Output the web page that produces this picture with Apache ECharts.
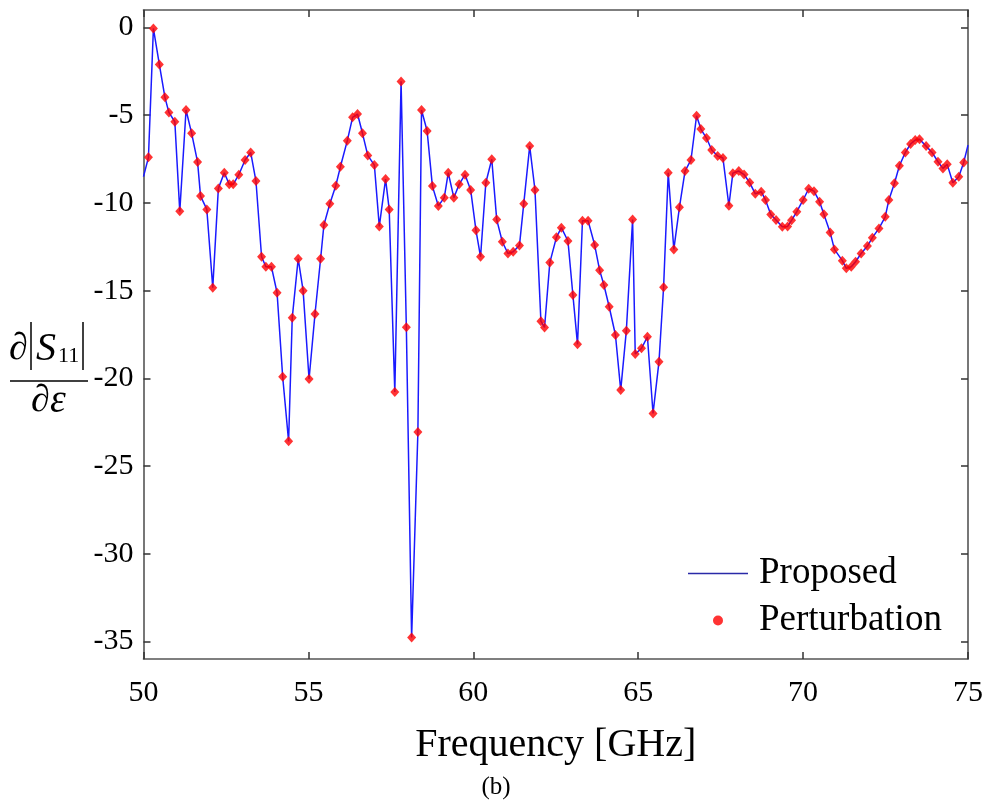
<!DOCTYPE html>
<html>
<head>
<meta charset="utf-8">
<script src="https://cdn.jsdelivr.net/npm/echarts@6/dist/echarts.min.js"></script>
<style>
html,body{margin:0;padding:0;background:#fff;}
#chart{width:988px;height:808px;}
</style>
</head>
<body>
<div id="chart"></div>
<script>
// Perturbation markers: frequency (GHz) and sensitivity values
const pertFreq = [50.15,50.30,50.48,50.65,50.77,50.95,51.10,51.29,51.46,51.64,51.73,51.92,52.10,52.27,52.45,52.60,52.72,52.89,53.08,53.25,53.41,53.58,53.71,53.88,54.05,54.22,54.40,54.51,54.69,54.84,55.02,55.20,55.37,55.47,55.65,55.83,55.97,56.18,56.34,56.49,56.64,56.80,57.00,57.15,57.34,57.45,57.62,57.81,57.97,58.13,58.32,58.43,58.60,58.76,58.94,59.12,59.24,59.41,59.57,59.75,59.92,60.08,60.22,60.38,60.56,60.71,60.88,61.05,61.21,61.40,61.53,61.71,61.87,62.05,62.16,62.32,62.52,62.67,62.87,63.02,63.16,63.31,63.48,63.68,63.83,63.96,64.12,64.31,64.47,64.64,64.83,64.91,65.10,65.28,65.45,65.63,65.77,65.91,66.08,66.25,66.42,66.60,66.77,66.90,67.07,67.23,67.41,67.57,67.75,67.87,68.05,68.21,68.38,68.55,68.73,68.86,69.02,69.18,69.37,69.53,69.65,69.81,70.00,70.17,70.33,70.50,70.63,70.82,70.95,71.19,71.31,71.46,71.59,71.76,71.95,72.10,72.30,72.49,72.60,72.77,72.92,73.10,73.26,73.40,73.53,73.73,73.91,74.09,74.24,74.37,74.54,74.72,74.87];
const pertVal = [-7.4,-0.05,-2.1,-3.98,-4.84,-5.37,-10.48,-4.70,-6.03,-7.67,-9.61,-10.37,-14.83,-9.17,-8.28,-8.94,-8.94,-8.39,-7.55,-7.12,-8.75,-13.07,-13.64,-13.64,-15.12,-19.91,-23.59,-16.55,-13.18,-15.0,-20.04,-16.33,-13.18,-11.26,-10.04,-9.02,-7.94,-6.45,-5.12,-4.93,-6.03,-7.29,-7.84,-11.34,-8.64,-10.37,-20.78,-3.07,-17.09,-34.77,-23.06,-4.70,-5.90,-9.04,-10.17,-9.70,-8.28,-9.70,-8.94,-8.39,-9.26,-11.55,-13.07,-8.85,-7.51,-10.95,-12.21,-12.88,-12.78,-12.42,-10.04,-6.76,-9.26,-16.74,-17.10,-13.40,-11.96,-11.41,-12.17,-15.25,-18.06,-11.01,-11.01,-12.40,-13.83,-14.68,-15.92,-17.53,-20.67,-17.29,-10.95,-18.61,-18.29,-17.63,-22.0,-19.05,-14.81,-8.28,-12.65,-10.25,-8.18,-7.55,-5.03,-5.79,-6.30,-6.98,-7.32,-7.44,-10.16,-8.30,-8.18,-8.38,-8.84,-9.48,-9.36,-9.83,-10.66,-10.97,-11.36,-11.34,-10.99,-10.50,-9.83,-9.19,-9.33,-9.93,-10.65,-11.68,-12.65,-13.29,-13.73,-13.64,-13.35,-12.88,-12.46,-11.98,-11.45,-10.79,-9.83,-8.88,-7.88,-7.12,-6.64,-6.41,-6.37,-6.76,-7.12,-7.65,-8.03,-7.80,-8.85,-8.51,-7.69];
// Proposed curve end points (beyond the first/last marker)
const proposedStart = [50.0, -8.5];
const proposedEnd = [75.0, -6.7];
const xTicks = [50,55,60,65,70,75];
const yTicks = [0,-5,-10,-15,-20,-25,-30,-35];

const FONT = 'Liberation Serif';
const pertData = pertFreq.map((f,i)=>[f, pertVal[i]]);
const propData = [proposedStart].concat(pertData, [proposedEnd]);

const chart = echarts.init(document.getElementById('chart'), null, {renderer:'canvas'});
const axisLineStyle = {color:'#555', width:1.6};
const tickStyle = {color:'#333', width:1.5};
function txt(s, x, yTop, font, extra) {
  return Object.assign({type:'text', x:x, y:yTop, style:{text:s, font:font, fill:'#000'}}, extra || {});
}
chart.setOption({
  animation:false,
  backgroundColor:'#fff',
  grid:{left:143.5, right:20, top:10, bottom:149},
  xAxis:[{
    type:'value', min:xTicks[0], max:xTicks[xTicks.length-1], interval:5, position:'bottom',
    axisLine:{onZero:false, lineStyle:axisLineStyle},
    axisTick:{inside:true, length:7, lineStyle:tickStyle},
    axisLabel:{fontFamily:FONT, fontSize:30, color:'#000', margin:19},
    splitLine:{show:false},
    name:'Frequency [GHz]', nameLocation:'middle', nameGap:66,
    nameTextStyle:{fontFamily:FONT, fontSize:40, color:'#000'}
  },{
    type:'value', min:xTicks[0], max:xTicks[xTicks.length-1], interval:5, position:'top',
    axisLine:{onZero:false, lineStyle:axisLineStyle},
    axisTick:{inside:true, length:7, lineStyle:tickStyle},
    axisLabel:{show:false}, splitLine:{show:false}
  }],
  yAxis:[{
    type:'value', min:-36, max:1, position:'left',
    axisLine:{show:true, onZero:false, lineStyle:axisLineStyle},
    axisTick:{show:true, inside:true, length:7, lineStyle:tickStyle, customValues:yTicks},
    axisLabel:{fontFamily:FONT, fontSize:30, color:'#000', margin:10, customValues:yTicks},
    splitLine:{show:false}
  },{
    type:'value', min:-36, max:1, position:'right',
    axisLine:{show:true, onZero:false, lineStyle:axisLineStyle},
    axisTick:{show:true, inside:true, length:7, lineStyle:tickStyle, customValues:yTicks},
    axisLabel:{show:false, customValues:yTicks},
    splitLine:{show:false}
  }],
  legend:{
    orient:'vertical', left:683, top:550, itemWidth:60, itemHeight:10, itemGap:10,
    textStyle:{fontFamily:FONT, fontSize:37, color:'#000', padding:[0,0,0,6]},
    data:[{name:'Proposed', icon:'path://M0,0H60V1.6H0Z', itemStyle:{color:'#2a2aa8'}},
          {name:'Perturbation', icon:'circle'}]
  },
  series:[{
    name:'Proposed', type:'line', data:propData, symbol:'none',
    lineStyle:{color:'#1a1aff', width:1.5}, itemStyle:{color:'#1a1aff'}, z:2
  },{
    name:'Perturbation', type:'scatter', data:pertData, symbol:'diamond', symbolSize:[9,10],
    itemStyle:{color:'#ff0000'}, z:3
  }],
  graphic:[
    txt('∂', 9, 330, '38px "Liberation Serif"'),
    {type:'line', shape:{x1:31, y1:322, x2:31, y2:370}, style:{stroke:'#000', lineWidth:1.5}},
    txt('S', 36, 329, 'italic 40px "Liberation Serif"'),
    txt('11', 58, 345, '22px "Liberation Serif"'),
    {type:'line', shape:{x1:83, y1:322, x2:83, y2:370}, style:{stroke:'#000', lineWidth:1.5}},
    {type:'line', shape:{x1:10, y1:381, x2:88, y2:381}, style:{stroke:'#000', lineWidth:1.5}},
    txt('∂', 31, 382, '38px "Liberation Serif"'),
    txt('ε', 50, 381, 'italic 40px "Liberation Serif"'),
    {type:'text', x:496, y:787, style:{text:'(b)', font:'25px "Liberation Serif"', fill:'#000', align:'center', verticalAlign:'middle'}}
  ]
});
</script>
</body>
</html>
